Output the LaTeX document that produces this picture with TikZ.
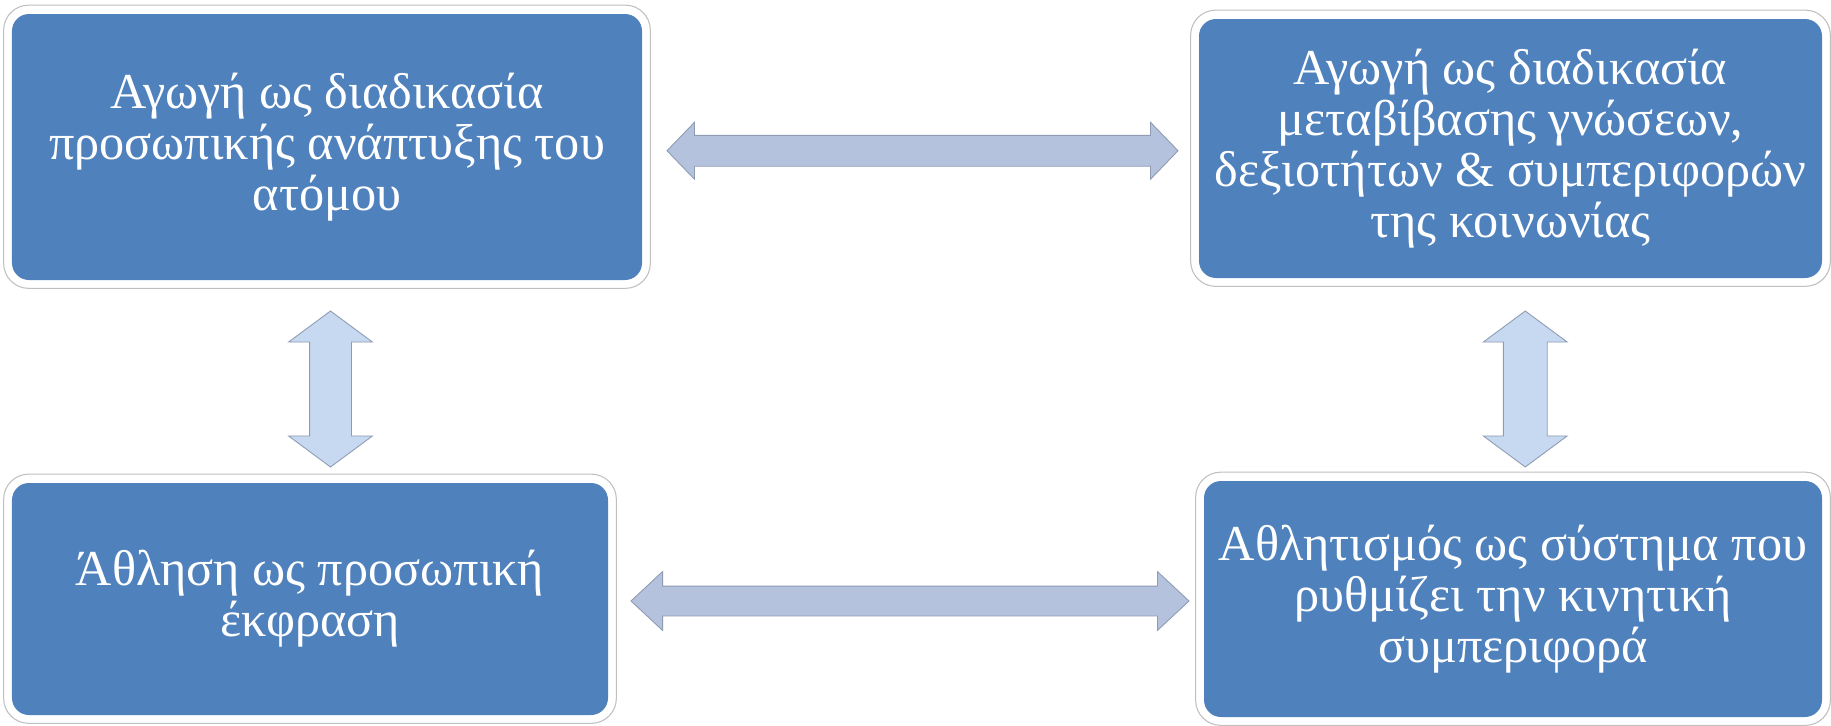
\documentclass[tikz,border=0pt]{standalone}
\usepackage{fontspec}
\setmainfont{Liberation Serif}
\usetikzlibrary{shapes.arrows,calc}
\definecolor{boxblue}{HTML}{4F81BD}
\definecolor{framegray}{HTML}{BFBFBF}
\definecolor{harrowfill}{HTML}{B4C2DD}
\definecolor{varrowfill}{HTML}{C6D9F1}
\definecolor{arrowline}{HTML}{8E9BB2}
\tikzset{%
    blockbox/.style={rectangle,rounded corners=0.34cm,fill=boxblue,text=white,
        align=center,inner sep=0pt,font=\fontsize{28.6}{29}\selectfont},
    framebox/.style={draw=framegray,line width=0.6pt,rounded corners=0.5cm},
    harrow/.style={double arrow,draw=arrowline,line width=0.5pt,fill=harrowfill,
        inner sep=0pt},
    varrow/.style={double arrow,draw=arrowline,line width=0.5pt,fill=varrowfill,
        inner sep=0pt,rotate=90}
}
\begin{document}
\begin{tikzpicture}
    \useasboundingbox (0,0) rectangle (36.62,-14.52);
    % four blocks
    \node[blockbox,minimum width=12.6cm,minimum height=5.32cm] (tl) at (6.54,-2.94)
        {Αγωγή ως διαδικασία\\προσωπικής ανάπτυξης του\\ατόμου};
    \node[blockbox,minimum width=12.46cm,minimum height=5.18cm] (tr) at (30.21,-2.97)
        {Αγωγή ως διαδικασία\\μεταβίβασης γνώσεων,\\δεξιοτήτων \& συμπεριφορών\\της κοινωνίας};
    \node[blockbox,minimum width=11.92cm,minimum height=4.64cm] (bl) at (6.2,-11.98)
        {Άθληση ως προσωπική\\έκφραση};
    \node[blockbox,minimum width=12.36cm,minimum height=4.72cm] (br) at (30.26,-11.98)
        {Αθλητισμός ως σύστημα που\\ρυθμίζει την κινητική\\συμπεριφορά};
    \foreach \n in {tl,tr,bl,br}
        \draw[framebox] ([shift={(-0.16,0.17)}]\n.north west) rectangle ([shift={(0.16,-0.16)}]\n.south east);

    % arrows between blocks
    \node[harrow,minimum height=10.22cm,minimum width=1.12cm,inner ysep=0.3cm,
        double arrow head extend=0.26cm,double arrow tip angle=92] (a1)
        at ($(tl.east)!0.5!(tr.west)+(0.04,-0.06)$) {};
    \node[harrow,minimum height=11.16cm,minimum width=1.16cm,inner ysep=0.29cm,
        double arrow head extend=0.29cm,double arrow tip angle=86] (a2)
        at ($(bl.east)!0.5!(br.west)+(0.08,-0.04)$) {};
    \node[varrow,minimum height=3.12cm,minimum width=1.66cm,inner ysep=0.41cm,
        double arrow head extend=0.42cm,double arrow tip angle=107] (a3)
        at ($(tl.south)!0.5!(bl.north)+(0.24,-0.15)$) {};
    \node[varrow,minimum height=3.12cm,minimum width=1.66cm,inner ysep=0.43cm,
        double arrow head extend=0.40cm,double arrow tip angle=107] (a4)
        at ($(tr.south)!0.5!(br.north)+(0.27,-0.19)$) {};
\end{tikzpicture}
\end{document}
